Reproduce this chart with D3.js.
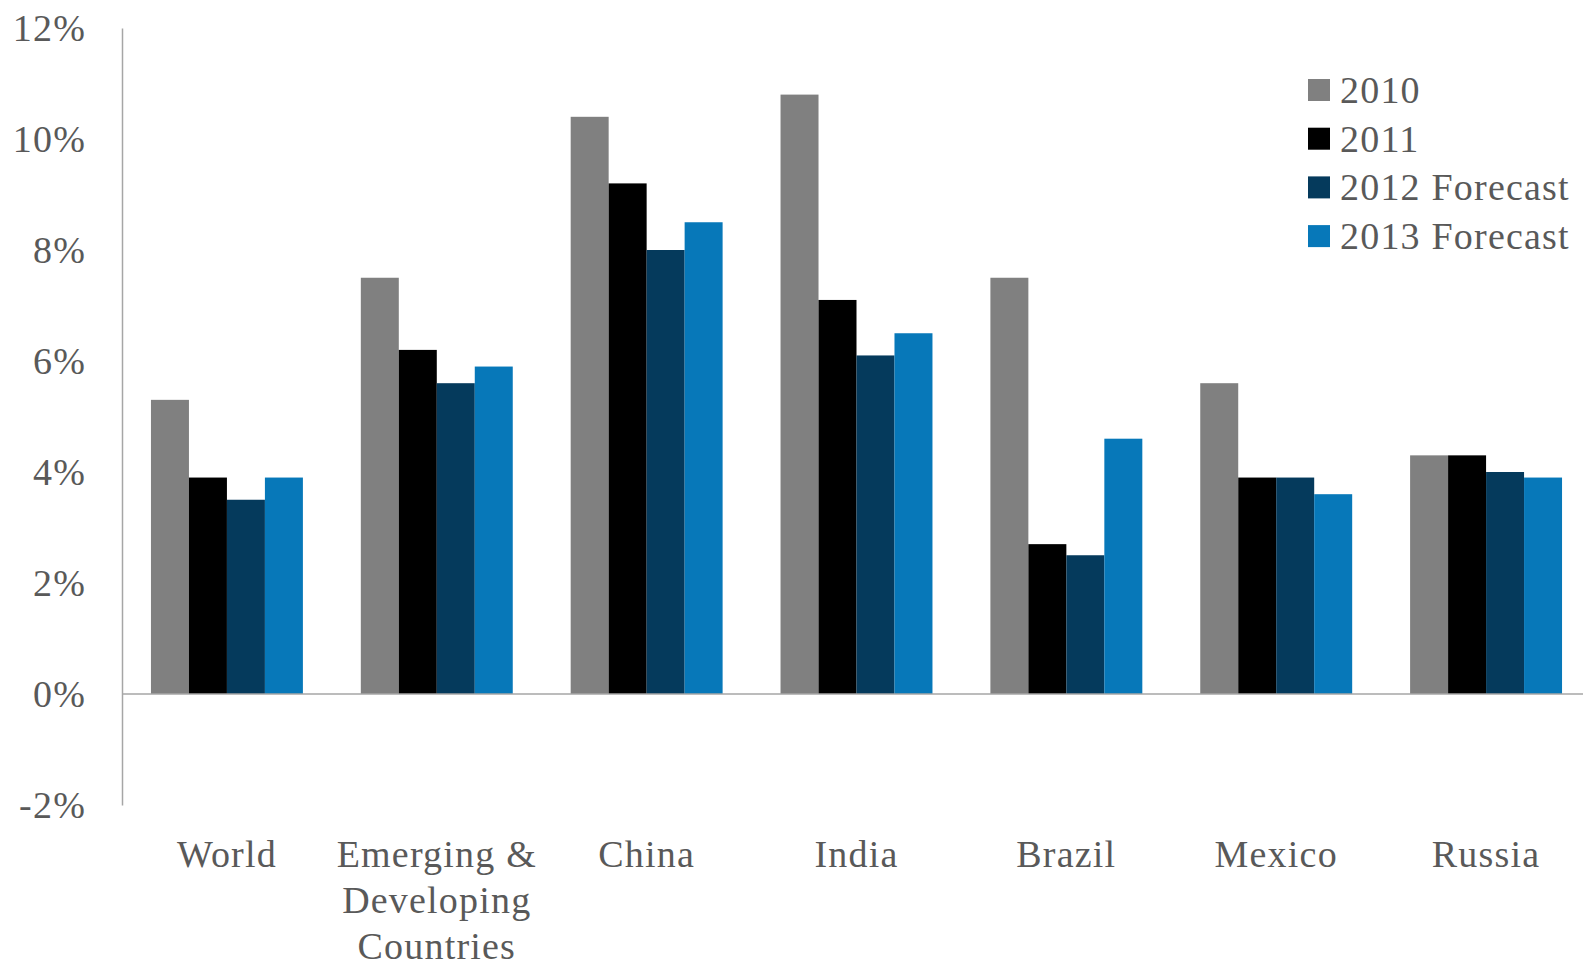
<!doctype html>
<html lang="en">
  <head>
    <meta charset="utf-8"/>
    <title>GDP Growth</title>
    <script src="https://d3js.org/d3.v7.min.js"></script>
    <style>
      body { margin: 0; background: #fff; }
      text { font-family: "Liberation Serif", "DejaVu Serif", serif; fill: #595959; letter-spacing: 1.2px; }
    </style>
  </head>
  <body>
    <div id="chart"></div>
    <script>
      // categories and series
      var countries = ["World", "Emerging & Developing Countries", "China", "India", "Brazil", "Mexico", "Russia"];
      var countryLines = [["World"], ["Emerging &", "Developing", "Countries"], ["China"], ["India"], ["Brazil"], ["Mexico"], ["Russia"]];
      var seriesNames = ["2010", "2011", "2012 Forecast", "2013 Forecast"];
      var seriesColors = ["#808080", "#000000", "#053a5c", "#0778b9"];
      var growth2010 = [5.3, 7.5, 10.4, 10.8, 7.5, 5.6, 4.3];
      var growth2011 = [3.9, 6.2, 9.2, 7.1, 2.7, 3.9, 4.3];
      var growth2012 = [3.5, 5.6, 8.0, 6.1, 2.5, 3.9, 4.0];
      var growth2013 = [3.9, 5.9, 8.5, 6.5, 4.6, 3.6, 3.9];
      var yTicks = [-2, 0, 2, 4, 6, 8, 10, 12];

      var allSeries = [growth2010, growth2011, growth2012, growth2013];

      //Width and height
      var w = 1583;
      var h = 967;

      var svg = d3.select("#chart")
        .append("svg")
        .attr("width", w)
        .attr("height", h);

      //Create scale functions
      var xScale = d3.scaleBand()
        .domain(countries)
        .range([122, 1591])
        .paddingInner(0.276)
        .paddingOuter(0.138);

      var xInner = d3.scaleBand()
        .domain(seriesNames)
        .range([0, xScale.bandwidth()]);

      var yScale = d3.scaleLinear()
        .domain([-2, 12])
        .range([805, 28]);

      //Create bars
      var groups = svg.selectAll("g.group")
        .data(countries)
        .enter()
        .append("g")
        .attr("class", "group")
        .attr("transform", function(d) { return "translate(" + xScale(d) + ",0)"; });

      groups.selectAll("rect")
        .data(function(d, i) {
          return seriesNames.map(function(s, j) {
            return { series: s, value: allSeries[j][i], color: seriesColors[j] };
          });
        })
        .enter()
        .append("rect")
        .attr("x", function(d) { return xInner(d.series); })
        .attr("width", xInner.bandwidth())
        .attr("y", function(d) { return yScale(Math.max(0, d.value)); })
        .attr("height", function(d) { return Math.abs(yScale(d.value) - yScale(0)); })
        .attr("fill", function(d) { return d.color; });

      //Zero line
      svg.append("line")
        .attr("x1", 122)
        .attr("x2", w)
        .attr("y1", yScale(0))
        .attr("y2", yScale(0))
        .attr("stroke", "#a6a6a6")
        .attr("stroke-width", 1.5);

      //Y axis
      var yAxis = d3.axisLeft()
        .scale(yScale)
        .tickValues(yTicks)
        .tickSize(0)
        .tickPadding(36)
        .tickFormat(function(d) { return d + "%"; });

      var gy = svg.append("g")
        .attr("transform", "translate(122,0)")
        .call(yAxis);
      gy.select(".domain").attr("stroke", "#a6a6a6").attr("stroke-width", 1.5);
      gy.selectAll("text")
        .attr("font-family", "Liberation Serif, serif")
        .attr("font-size", 38)
        .attr("fill", "#595959");

      //X labels
      var labels = svg.selectAll("text.xlabel")
        .data(countries)
        .enter()
        .append("text")
        .attr("class", "xlabel")
        .attr("text-anchor", "middle")
        .attr("font-size", 38)
        .attr("x", function(d) { return xScale(d) + xScale.bandwidth() / 2; })
        .attr("y", 867);

      labels.selectAll("tspan")
        .data(function(d, i) { return countryLines[i]; })
        .enter()
        .append("tspan")
        .attr("x", function() { return d3.select(this.parentNode).attr("x"); })
        .attr("dy", function(d, i) { return i === 0 ? 0 : 46; })
        .text(function(d) { return d; });

      //Legend
      var legend = svg.selectAll("g.legend")
        .data(seriesNames)
        .enter()
        .append("g")
        .attr("class", "legend")
        .attr("transform", function(d, i) { return "translate(1308," + (90 + i * 48.7) + ")"; });

      legend.append("rect")
        .attr("x", 0)
        .attr("y", -11)
        .attr("width", 22)
        .attr("height", 22)
        .attr("fill", function(d, i) { return seriesColors[i]; });

      legend.append("text")
        .attr("x", 32)
        .attr("y", 13)
        .attr("font-size", 38)
        .text(function(d) { return d; });
    </script>
  </body>
</html>
